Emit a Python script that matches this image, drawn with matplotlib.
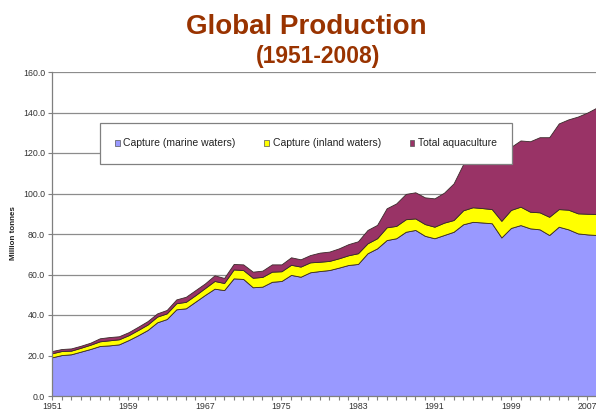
import matplotlib
matplotlib.use("Agg")
import matplotlib.pyplot as plt
from matplotlib.patches import Patch
from matplotlib.ticker import MultipleLocator, FormatStrFormatter

plt.rcParams['font.family'] = ['Liberation Sans', 'DejaVu Sans']

years = list(range(1951, 2009))

# Million tonnes
capture_marine = [
    19.1, 20.2, 20.6, 21.9, 23.2, 24.7, 25.0, 25.5, 27.6, 30.0,
    32.6, 36.4, 38.0, 42.8, 43.3, 46.6, 49.9, 53.0, 52.3, 58.1,
    57.8, 53.7, 54.0, 56.4, 56.8, 59.8, 58.9, 61.1, 61.7, 62.2,
    63.4, 64.7, 65.2, 70.5, 72.9, 77.0, 77.9, 81.1, 82.0, 79.1,
    77.9, 79.5, 81.1, 84.8, 86.0, 85.7, 85.3, 78.3, 83.0, 84.4,
    82.8, 82.3, 79.5, 83.6, 82.3, 80.3, 79.8, 79.5,
]
capture_inland = [
    2.0, 2.0, 1.8, 1.9, 2.1, 2.3, 2.5, 2.5, 2.4, 2.6,
    2.7, 2.8, 2.8, 3.0, 3.2, 3.2, 3.4, 3.8, 3.5, 4.4,
    4.4, 4.7, 4.8, 5.0, 4.8, 5.0, 5.0, 4.9, 4.6, 4.5,
    4.6, 4.8, 5.3, 4.9, 5.0, 6.3, 6.1, 6.2, 5.7, 5.8,
    5.7, 6.1, 5.8, 6.9, 7.2, 7.1, 7.0, 8.2, 8.9, 9.1,
    8.2, 8.4, 9.0, 8.7, 9.7, 9.9, 10.2, 10.4,
]
aquaculture = [
    1.1, 1.0, 1.1, 1.0, 1.0, 1.5, 1.6, 1.5, 1.5, 1.6,
    1.7, 1.6, 1.7, 1.9, 2.5, 2.5, 2.3, 2.8, 2.5, 2.7,
    2.8, 3.0, 3.1, 3.6, 3.4, 3.7, 3.6, 3.6, 4.5, 4.6,
    4.9, 5.5, 5.9, 6.6, 6.6, 9.4, 11.1, 12.5, 12.9, 13.2,
    14.0, 14.8, 18.1, 22.8, 25.3, 28.2, 29.7, 32.0, 31.1, 32.7,
    34.8, 37.1, 39.3, 42.3, 44.6, 47.8, 50.0, 52.6,
]
series_labels = ["Capture (marine waters)", "Capture (inland waters)", "Total aquaculture"]
series_colors = ["#9999FF", "#FFFF00", "#993366"]
xtick_years = [1951, 1959, 1967, 1975, 1983, 1991, 1999, 2007]

W, H = 596, 412
fig = plt.figure(figsize=(W / 100, H / 100), dpi=100)
ax = fig.add_axes([52 / W, 1 - 396 / H, 545 / W, 324 / H])

ax.stackplot(years, capture_marine, capture_inland, aquaculture,
             colors=series_colors, edgecolor="#3a2a2a", linewidth=0.6, zorder=2)

ax.set_xlim(1951, 2008)
ax.set_ylim(0, 160)
ax.yaxis.set_major_locator(MultipleLocator(20))
ax.yaxis.set_major_formatter(FormatStrFormatter("%.1f"))
ax.set_xticks(xtick_years)
ax.set_xticklabels([str(y) for y in xtick_years])
ax.xaxis.set_minor_locator(MultipleLocator(1))
ax.grid(axis="y", color="#8c8c8c", linewidth=0.9, zorder=0)
ax.set_axisbelow(True)

for side in ("top", "right"):
    ax.spines[side].set_visible(False)
for side in ("left", "bottom"):
    ax.spines[side].set_color("#7f7f7f")
    ax.spines[side].set_linewidth(0.9)

ax.tick_params(axis="y", direction="out", length=3, width=0.8, color="#7f7f7f",
               labelsize=6.3, labelcolor="#333333", pad=2)
ax.tick_params(axis="x", which="both", direction="out", length=3, width=0.8,
               color="#7f7f7f", labelsize=6.3, labelcolor="#333333", pad=1)

fig.text(14 / W, 1 - 233 / H, "Million tonnes", rotation=90, fontsize=5.8,
         fontweight="bold", ha="center", va="center", color="#222222")

fig.text(306 / W, 1 - 27 / H, "Global Production", fontsize=20, fontweight="bold",
         color="#993300", ha="center", va="center")
fig.text(318 / W, 1 - 56 / H, "(1951-2008)", fontsize=16.5, fontweight="bold",
         color="#993300", ha="center", va="center")

handles = [Patch(facecolor=c, edgecolor="#555555", linewidth=0.5) for c in series_colors]
leg = fig.legend(handles, series_labels, loc="center", ncol=3,
                 bbox_to_anchor=(306 / W, 1 - 143.5 / H),
                 fontsize=7.5, frameon=True, fancybox=False, framealpha=1.0,
                 handlelength=0.45, handleheight=0.45, handletextpad=0.35,
                 columnspacing=2.75, borderpad=1.45, borderaxespad=0)
leg.get_frame().set_edgecolor("#808080")
leg.get_frame().set_linewidth(0.9)
for t in leg.get_texts():
    t.set_color("#222222")

fig.savefig("out.png", dpi=100)
